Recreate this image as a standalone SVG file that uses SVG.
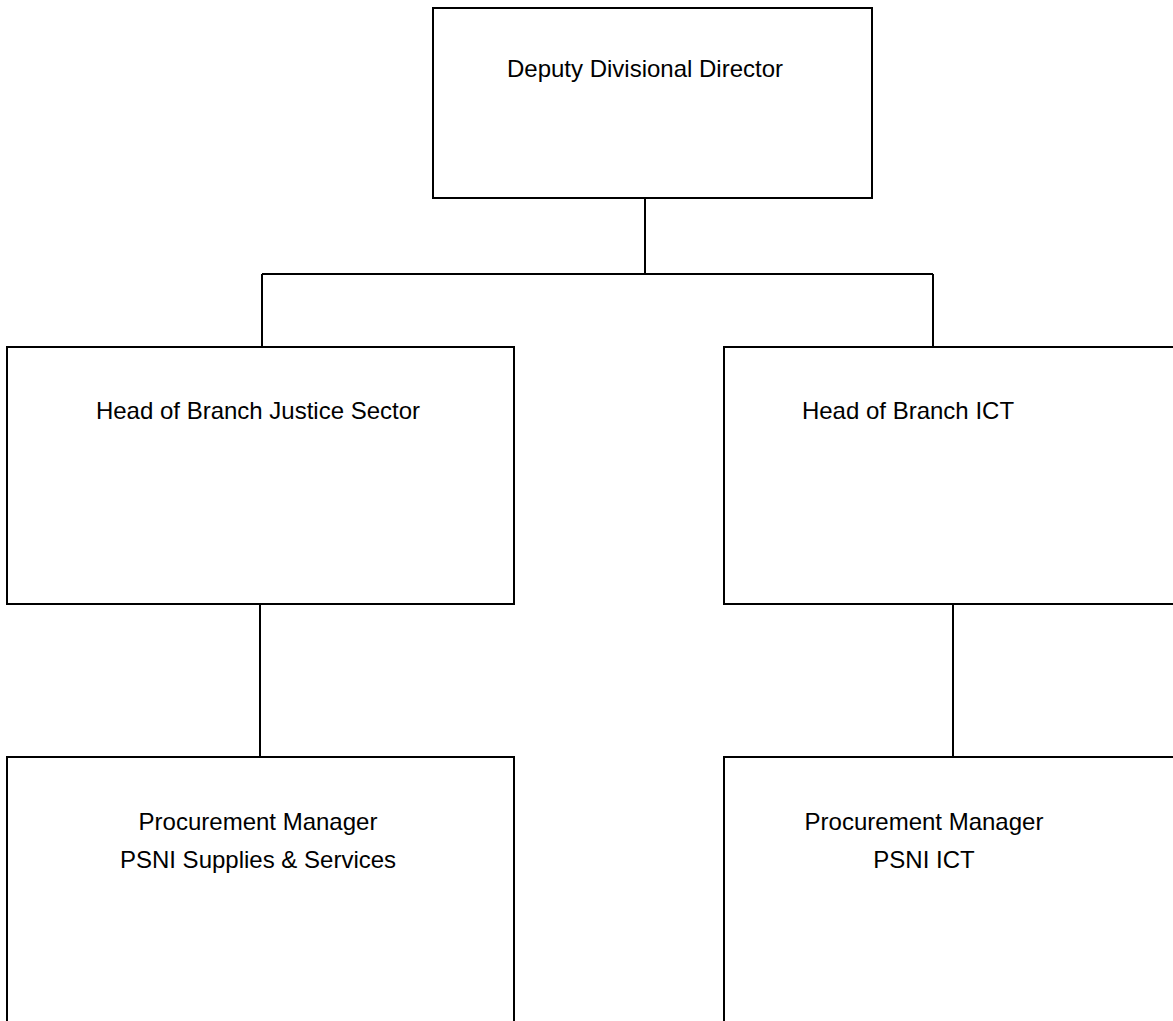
<svg xmlns="http://www.w3.org/2000/svg" width="1173" height="1021" viewBox="0 0 1173 1021">
<style>
.box{fill:#fff;stroke:#000;stroke-width:2}
.con{fill:none;stroke:#000;stroke-width:2}
text{font-family:"Liberation Sans",Arial,sans-serif;font-size:24px;fill:#000;text-anchor:middle}
</style>
<rect width="1173" height="1021" fill="#fff"/>
<g id="connectors">
<path class="con" d="M645 198V274M262 274H933M262 274V347M933 274V347"/>
<path class="con" d="M260 604V757"/>
<path class="con" d="M953 604V757"/>
</g>
<g id="n-deputy">
<rect class="box" x="433" y="8" width="439" height="190"/>
<text x="645" y="77">Deputy Divisional Director</text>
</g>
<g id="n-head-justice">
<rect class="box" x="7" y="347" width="507" height="257"/>
<text x="258" y="419">Head of Branch Justice Sector</text>
</g>
<g id="n-head-ict">
<rect class="box" x="724" y="347" width="508" height="257"/>
<text x="908" y="419">Head of Branch ICT</text>
</g>
<g id="n-pm-supplies">
<rect class="box" x="7" y="757" width="507" height="300"/>
<text x="258" y="830">Procurement Manager</text>
<text x="258" y="868">PSNI Supplies &amp; Services</text>
</g>
<g id="n-pm-ict">
<rect class="box" x="724" y="757" width="508" height="300"/>
<text x="924" y="830">Procurement Manager</text>
<text x="924" y="868">PSNI ICT</text>
</g>
</svg>
